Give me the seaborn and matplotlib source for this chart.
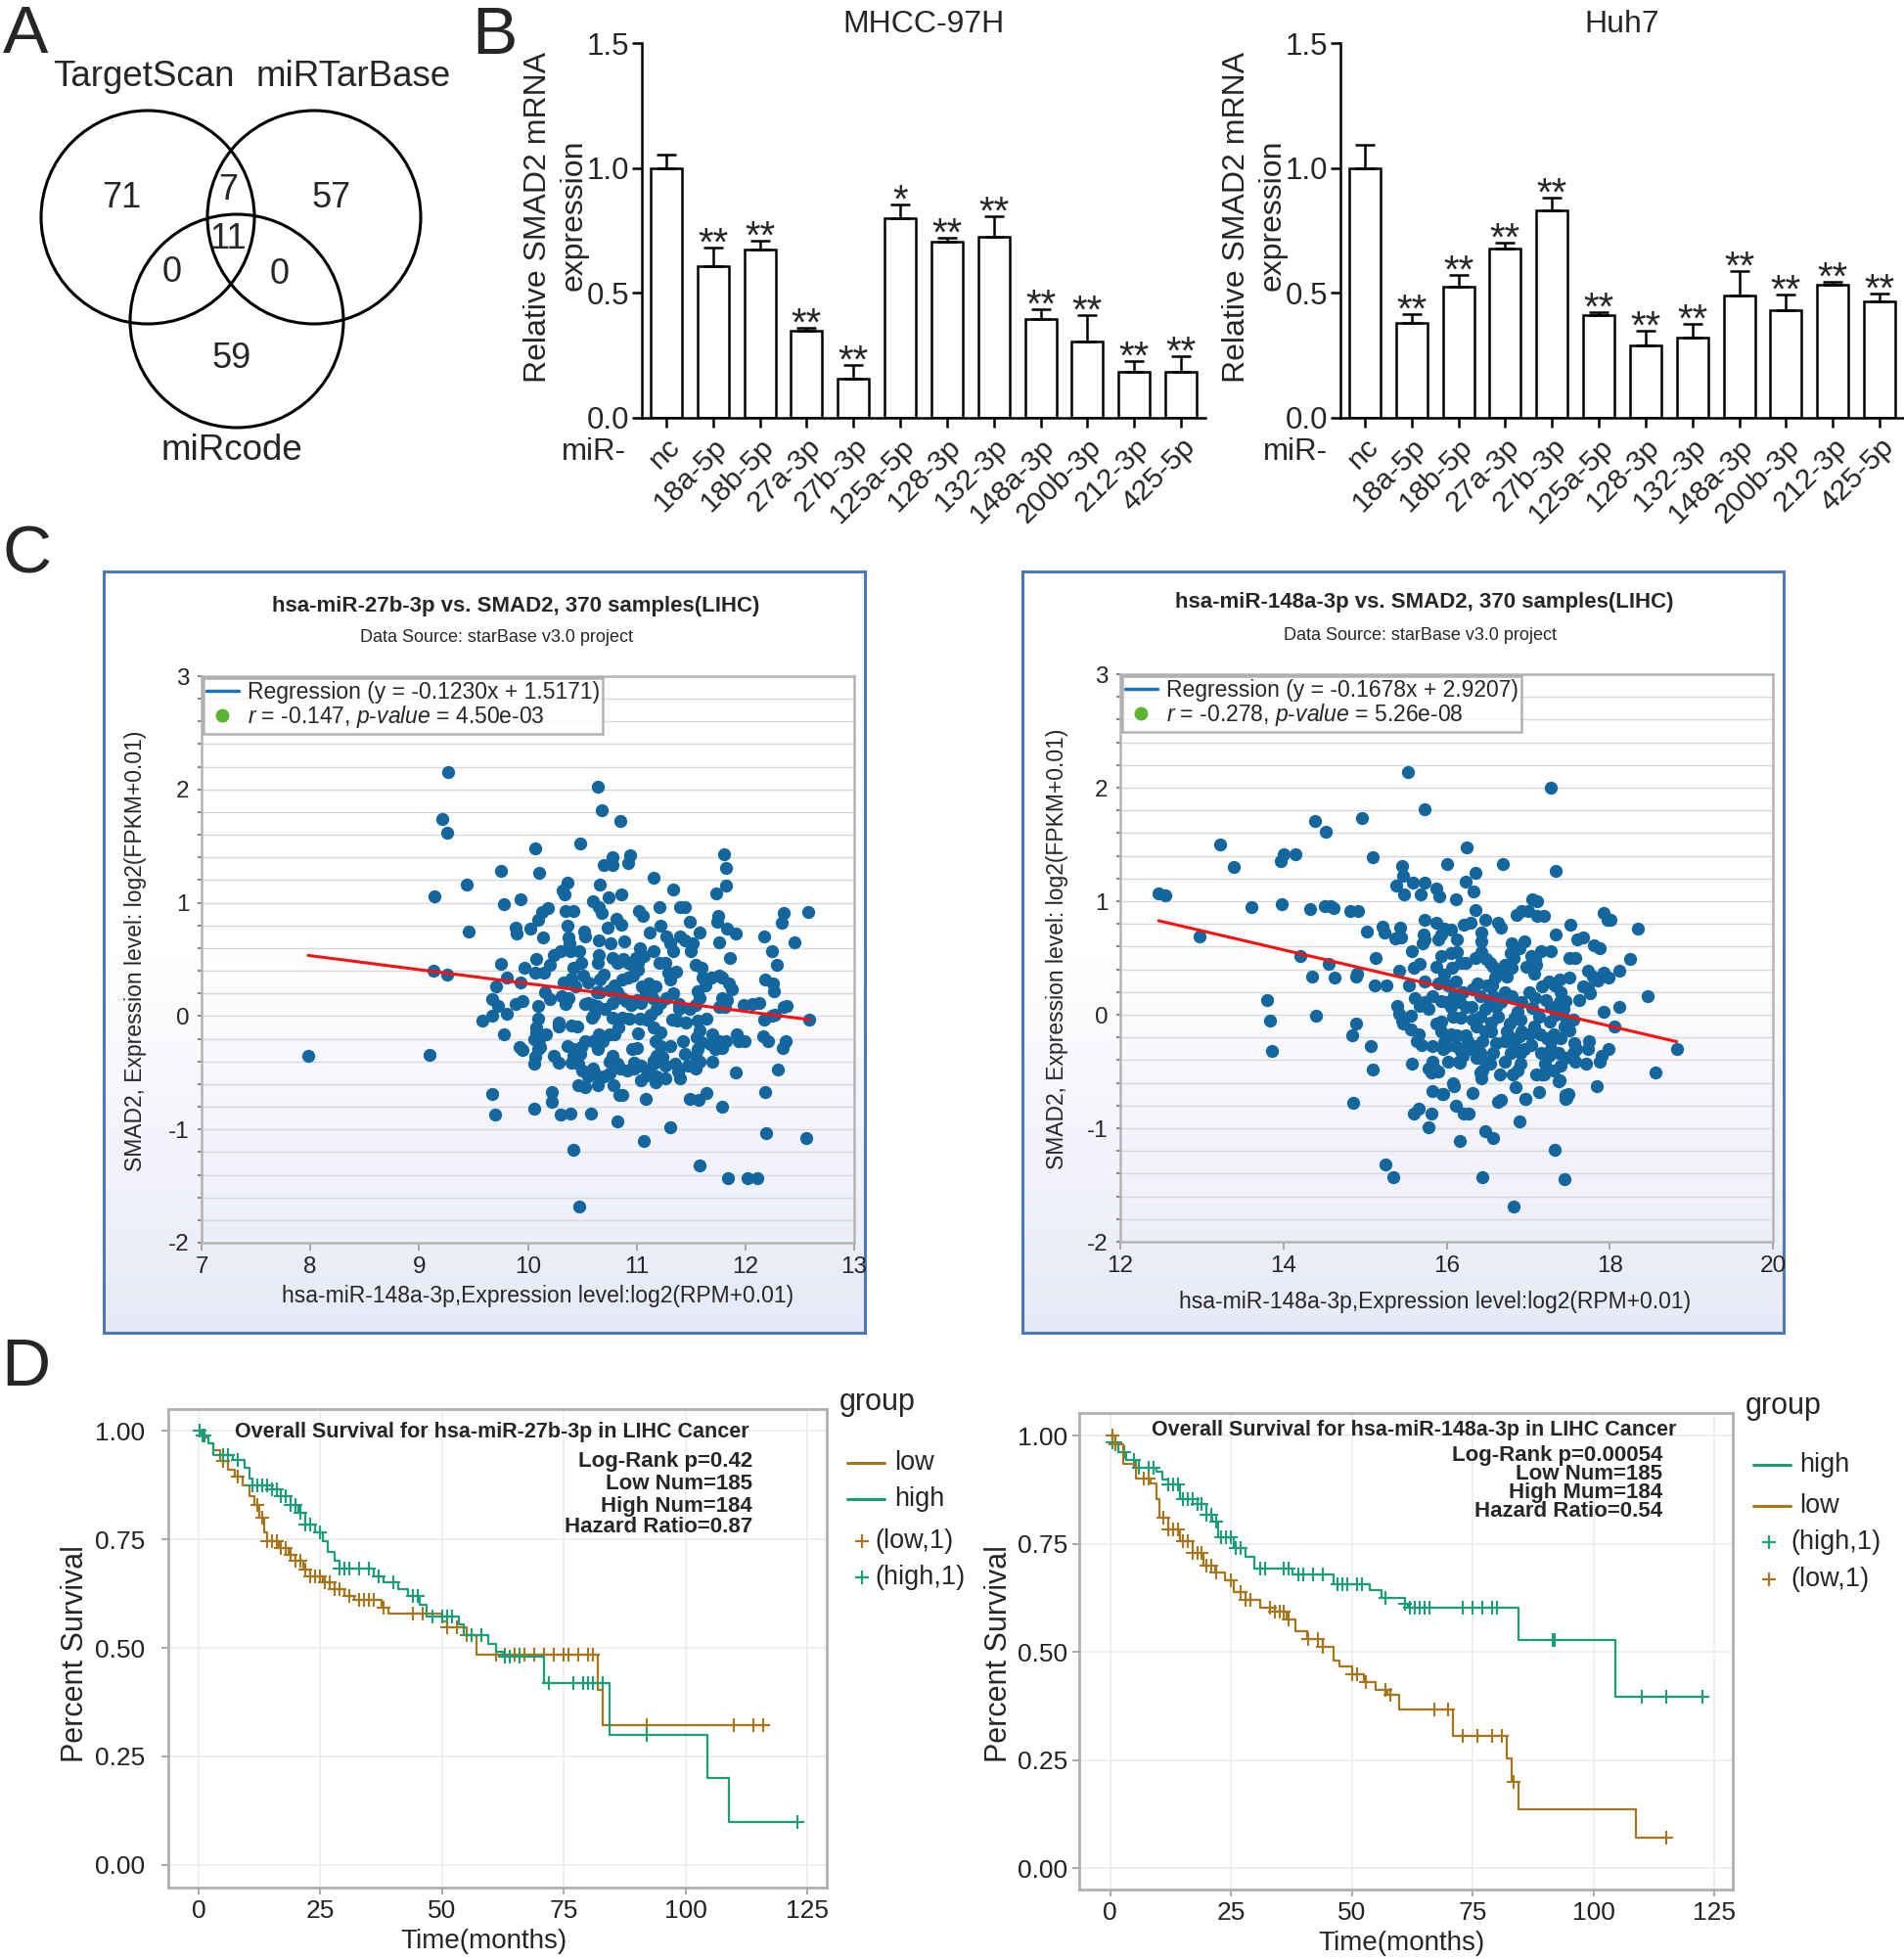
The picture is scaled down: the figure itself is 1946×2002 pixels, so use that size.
import numpy as np
import pandas as pd
import matplotlib
matplotlib.use('Agg')
import matplotlib.pyplot as plt
import seaborn as sns
from matplotlib.patches import Circle
from matplotlib.lines import Line2D
from matplotlib.colors import LinearSegmentedColormap

# ---------------- data ----------------
# A: venn counts
venn_names = ['TargetScan', 'miRTarBase', 'miRcode']
venn_counts = {'ts': 71, 'mtb': 57, 'mc': 59, 'ts_mtb': 7, 'ts_mc': 0, 'mtb_mc': 0, 'all': 11}

# B: qPCR bars
mir_labels = ['nc', '18a-5p', '18b-5p', '27a-3p', '27b-3p', '125a-5p', '128-3p',
              '132-3p', '148a-3p', '200b-3p', '212-3p', '425-5p']
mhcc_mean = [1.0, 0.607, 0.673, 0.349, 0.156, 0.798, 0.706, 0.725, 0.395, 0.304, 0.183, 0.186]
mhcc_err = [0.055, 0.076, 0.034, 0.011, 0.054, 0.056, 0.016, 0.083, 0.039, 0.109, 0.046, 0.062]
mhcc_sig = ['', '**', '**', '**', '**', '*', '**', '**', '**', '**', '**', '**']
huh7_mean = [1.0, 0.379, 0.525, 0.678, 0.830, 0.413, 0.291, 0.322, 0.489, 0.430, 0.532, 0.468]
huh7_err = [0.094, 0.038, 0.045, 0.025, 0.053, 0.011, 0.056, 0.054, 0.097, 0.063, 0.011, 0.029]
huh7_sig = ['', '**', '**', '**', '**', '**', '**', '**', '**', '**', '**', '**']

# C: starBase scatter, miR-27b-3p vs SMAD2
s1_x = [7.98, 9.10, 9.27, 9.21, 9.26, 9.14, 9.44, 9.46, 9.13, 9.26,
        10.64, 10.68, 10.85, 10.48, 10.07, 10.10, 9.75, 9.78, 9.93, 11.80,
        11.82, 11.82, 11.73, 10.94, 10.92, 10.78, 10.70, 10.78, 11.16, 11.34,
        10.66, 10.36, 10.32, 10.34, 10.60, 10.74, 10.86, 11.21, 11.40, 11.44,
        11.02, 11.06, 10.65, 10.68, 10.42, 10.35, 10.18, 10.13, 10.09, 10.02,
        9.89, 9.90, 10.14, 10.36, 10.37, 10.38, 10.52, 10.53, 10.65, 10.73,
        10.81, 10.86, 10.89, 11.12, 11.22, 11.27, 11.31, 11.34, 11.40, 11.44,
        11.49, 11.58, 11.52, 11.50, 11.75, 11.74, 11.76, 11.83, 11.91, 11.86,
        12.17, 12.24, 12.33, 12.35, 12.45, 12.58, 12.29, 12.18, 12.25, 12.26,
        12.35, 12.38, 11.98, 12.06, 12.13, 12.17, 12.24, 12.27, 12.59, 12.16,
        12.21, 12.37, 12.34, 12.30, 11.91, 12.18, 11.79, 12.19, 12.56, 11.58,
        11.84, 12.02, 12.11, 11.07, 11.31, 10.82, 10.42, 10.47, 10.06, 10.30,
        10.39, 10.58, 11.08, 10.22, 10.22, 9.67, 9.70, 10.53, 10.64, 10.79,
        10.84, 10.87, 11.49, 11.57, 11.64, 11.40, 11.26, 11.17, 11.09, 10.98,
        11.04, 10.75, 10.75, 10.62, 10.60, 10.50, 10.46, 10.42, 10.48, 10.36,
        10.49, 10.24, 10.06, 10.07, 10.09, 10.11, 9.95, 9.92, 9.78, 9.58,
        9.67, 9.81, 9.67, 9.73, 9.71, 9.75, 9.81, 9.89, 9.95, 9.93,
        9.97, 10.09, 10.20, 10.08, 10.07, 10.15, 10.20, 10.24, 10.31, 10.33,
        10.35, 10.37, 10.40, 10.42, 10.47, 10.49, 10.55, 10.53, 10.60, 10.63,
        10.66, 10.66, 10.70, 10.64, 10.65, 10.76, 10.78, 10.82, 10.88, 10.92,
        10.96, 11.01, 11.03, 11.07, 11.01, 10.97, 10.92, 10.87, 10.80, 10.75,
        10.82, 10.87, 10.90, 10.95, 11.00, 11.04, 11.08, 11.11, 11.17, 11.16,
        11.21, 11.26, 11.29, 11.31, 11.36, 11.34, 11.39, 11.27, 11.22, 11.18,
        11.13, 11.09, 11.03, 10.93, 10.87, 10.78, 10.83, 10.80, 11.01, 10.96,
        11.00, 10.65, 10.64, 10.59, 10.55, 10.61, 10.45, 10.40, 10.28, 10.28,
        10.17, 10.09, 10.08, 10.10, 11.16, 11.22, 11.17, 11.22, 11.31, 11.18,
        11.24, 11.16, 11.35, 11.38, 11.44, 11.43, 11.33, 11.37, 11.45, 11.39,
        11.49, 11.54, 11.58, 11.56, 11.63, 11.54, 11.60, 11.61, 11.69, 11.76,
        11.79, 11.79, 11.83, 11.76, 11.85, 11.88, 11.81, 11.56, 11.64, 11.58,
        11.55, 11.60, 11.56, 11.54, 11.58, 11.70, 11.68, 11.72, 11.76, 11.79,
        11.82, 11.70, 11.47, 11.54, 11.92, 11.94, 11.99, 11.26, 11.18, 11.16,
        11.11, 11.04, 10.98, 10.91, 10.85, 10.82, 10.78, 10.75, 10.69, 10.60,
        10.53, 10.42, 10.40, 10.28, 10.55, 10.70, 10.46, 10.08, 10.06, 10.16,
        10.78, 10.71, 10.63, 10.44, 10.51, 10.39, 10.30, 11.15, 11.05, 10.99]
s1_y = [-0.35, -0.34, 2.15, 1.74, 1.62, 1.06, 1.16, 0.75, 0.40, 0.37,
        2.02, 1.82, 1.72, 1.52, 1.48, 1.26, 1.28, 0.99, 1.03, 1.43,
        1.31, 1.15, 1.08, 1.42, 1.35, 1.33, 1.33, 1.40, 1.22, 1.12,
        1.16, 1.18, 1.11, 1.07, 1.01, 1.05, 1.07, 0.96, 0.96, 0.96,
        0.93, 0.88, 0.96, 0.91, 0.93, 0.93, 0.95, 0.92, 0.85, 0.77,
        0.78, 0.73, 0.69, 0.80, 0.69, 0.64, 0.75, 0.70, 0.67, 0.78,
        0.86, 0.81, 0.66, 0.74, 0.80, 0.70, 0.64, 0.57, 0.70, 0.67,
        0.83, 0.74, 0.64, 0.57, 0.88, 0.83, 0.65, 0.77, 0.73, 0.51,
        0.70, 0.57, 0.82, 0.91, 0.65, 0.92, 0.45, 0.32, 0.29, 0.22,
        0.08, 0.09, 0.10, 0.11, 0.12, -0.03, 0.00, 0.01, -0.03, -0.18,
        -0.22, -0.22, -0.28, -0.47, -0.50, -0.67, -0.80, -1.03, -1.08, -1.32,
        -1.43, -1.43, -1.43, -1.10, -0.98, -0.93, -1.18, -1.68, -0.82, -0.87,
        -0.86, -0.86, -0.73, -0.67, -0.76, -0.69, -0.87, -0.63, -0.61, -0.61,
        -0.70, -0.70, -0.73, -0.74, -0.68, -0.55, -0.55, -0.58, -0.52, -0.41,
        -0.44, -0.40, -0.51, -0.51, -0.46, -0.48, -0.42, -0.35, -0.33, -0.26,
        -0.27, -0.35, -0.42, -0.36, -0.29, -0.27, -0.30, -0.27, -0.16, -0.04,
        0.00, 0.02, 0.15, 0.09, 0.26, 0.46, 0.34, 0.11, 0.13, 0.30,
        0.43, 0.09, 0.15, 0.50, 0.38, 0.38, 0.45, 0.54, 0.18, 0.30,
        0.11, 0.16, 0.33, 0.43, 0.57, 0.47, 0.30, 0.11, 0.10, 0.09,
        0.21, 0.32, 0.37, 0.47, 0.54, 0.64, 0.51, 0.47, 0.50, 0.47,
        0.45, 0.47, 0.60, 0.53, 0.41, 0.36, 0.34, 0.32, 0.27, 0.23,
        0.21, 0.16, 0.13, 0.10, 0.14, 0.12, 0.21, 0.29, 0.26, 0.57,
        0.47, 0.47, 0.38, 0.32, 0.39, 0.20, 0.11, 0.16, 0.12, 0.06,
        0.01, -0.03, -0.02, -0.02, -0.01, -0.01, -0.10, -0.16, -0.15, -0.29,
        -0.28, -0.16, -0.29, -0.01, 0.12, 0.01, -0.09, -0.08, -0.09, -0.06,
        -0.16, -0.02, -0.10, -0.20, -0.10, -0.14, -0.22, -0.26, -0.26, -0.35,
        -0.36, -0.39, -0.42, -0.49, -0.33, -0.22, -0.03, -0.04, -0.06, 0.06,
        0.06, 0.10, 0.16, 0.22, 0.27, 0.45, 0.43, 0.34, 0.34, 0.36,
        0.34, 0.16, 0.14, 0.08, 0.29, 0.24, 0.08, -0.04, -0.02, -0.13,
        -0.19, -0.23, -0.29, -0.35, -0.40, -0.16, -0.25, -0.29, -0.22, -0.28,
        -0.22, -0.40, -0.44, -0.46, -0.16, -0.22, -0.22, -0.44, -0.53, -0.42,
        -0.48, -0.57, -0.46, -0.48, -0.46, -0.42, -0.35, -0.16, -0.22, -0.22,
        -0.22, -0.29, -0.41, -0.41, -0.53, -0.53, -0.61, -0.14, -0.20, 0.21,
        0.12, 0.06, 0.21, 0.26, 0.36, 0.57, 0.57, 0.16, 0.26, 0.51]
s1_fit = (-0.1230, 1.5171)
s1_stats = ('-0.147', '4.50e-03')

# C: starBase scatter, miR-148a-3p vs SMAD2
s2_x = [12.47, 12.55, 12.97, 13.22, 13.39, 13.61, 13.97, 14.00, 14.15, 13.98,
        14.39, 14.52, 14.96, 14.33, 14.51, 14.62, 14.58, 14.82, 14.91, 14.21,
        14.35, 14.55, 14.63, 13.80, 13.84, 13.86, 14.40, 14.84, 14.89, 14.90,
        14.89, 14.85, 15.07, 15.09, 15.02, 15.09, 15.13, 15.12, 15.26, 15.21,
        15.24, 15.37, 15.43, 15.44, 15.38, 15.46, 15.47, 15.48, 15.59, 15.68,
        15.73, 15.53, 15.73, 16.01, 16.25, 16.69, 16.23, 16.35, 16.33, 16.11,
        15.88, 15.91, 17.28, 17.34, 17.05, 17.11, 17.11, 17.19, 17.00, 16.92,
        16.86, 17.92, 17.97, 18.01, 18.34, 17.52, 17.34, 17.60, 17.67, 17.80,
        17.88, 18.25, 18.12, 17.93, 17.98, 17.73, 17.79, 17.85, 17.67, 17.73,
        17.76, 17.62, 17.51, 17.51, 17.58, 17.28, 17.16, 17.08, 17.04, 17.10,
        16.89, 16.95, 16.80, 16.63, 16.66, 16.47, 16.42, 16.42, 16.35, 16.29,
        16.21, 16.12, 16.05, 15.97, 15.87, 15.73, 15.72, 15.71, 15.73, 15.90,
        15.94, 15.57, 15.67, 15.60, 15.42, 15.54, 15.73, 15.87, 15.93, 16.05,
        16.13, 16.17, 16.07, 15.97, 15.90, 16.02, 16.11, 16.23, 16.35, 16.42,
        16.48, 16.53, 16.57, 16.65, 16.71, 16.78, 16.82, 16.80, 16.74, 16.59,
        16.50, 16.38, 16.32, 16.20, 16.09, 16.01, 15.93, 15.83, 15.73, 15.78,
        15.67, 15.61, 15.40, 15.42, 15.45, 15.56, 15.47, 15.56, 15.66, 15.63,
        15.69, 15.57, 15.83, 15.83, 15.78, 15.85, 15.90, 15.81, 15.83, 15.96,
        15.81, 15.78, 15.66, 15.60, 15.25, 15.35, 15.87, 15.94, 15.93, 15.97,
        15.96, 16.08, 16.05, 16.16, 16.23, 16.17, 16.13, 16.11, 16.17, 16.20,
        16.16, 16.26, 16.27, 16.37, 16.41, 16.32, 16.47, 16.53, 16.57, 16.60,
        16.66, 16.63, 16.54, 16.47, 16.44, 16.35, 16.41, 16.37, 16.47, 16.44,
        16.42, 16.41, 16.53, 16.57, 16.61, 16.71, 16.74, 16.77, 16.83, 16.91,
        16.87, 16.92, 16.80, 16.71, 17.01, 17.08, 17.05, 17.13, 17.07, 17.14,
        17.01, 16.89, 16.80, 16.83, 16.78, 16.91, 16.90, 16.87, 16.81, 16.65,
        16.66, 16.63, 16.84, 16.97, 17.13, 17.17, 17.10, 17.20, 17.25, 17.28,
        17.23, 17.31, 17.27, 17.34, 17.28, 17.22, 17.17, 17.25, 17.33, 17.39,
        17.40, 17.39, 17.43, 17.46, 17.47, 17.44, 17.55, 17.59, 17.55, 17.46,
        17.37, 17.40, 17.31, 17.39, 17.47, 17.49, 17.37, 17.71, 17.73, 17.75,
        17.88, 17.90, 17.98, 18.06, 17.93, 18.12, 18.47, 18.82, 18.56, 17.84,
        17.32, 17.44, 16.89, 16.97, 16.82, 16.44, 16.47, 16.57, 16.16, 16.21,
        16.27, 16.11, 16.09, 15.95, 16.32, 16.15, 16.01, 17.19, 17.46, 17.46,
        17.58, 17.56, 17.51, 17.40, 17.28, 17.16, 17.04, 16.95, 16.92, 16.41,
        16.56, 16.30, 16.54, 16.71, 16.02, 16.08, 16.05, 16.23, 17.07, 16.98]
s2_y = [1.07, 1.05, 0.69, 1.50, 1.30, 0.95, 1.35, 1.41, 1.41, 0.97,
        1.71, 1.61, 1.73, 0.93, 0.96, 0.94, 0.96, 0.91, 0.91, 0.52,
        0.34, 0.45, 0.33, 0.13, -0.05, -0.32, -0.01, -0.18, -0.08, 0.36,
        0.34, -0.78, -0.28, -0.48, 0.73, 1.39, 0.50, 0.26, 0.26, 0.78,
        0.72, 0.67, 0.77, 0.68, 1.14, 1.31, 1.22, 1.06, 1.16, 1.06,
        1.16, 2.14, 1.81, 1.33, 1.47, 1.33, 1.17, 1.25, 1.09, 1.02,
        1.11, 1.04, 2.00, 1.27, 1.02, 1.00, 0.87, 0.87, 0.91, 0.91,
        0.88, 0.90, 0.84, 0.84, 0.76, 0.79, 0.71, 0.66, 0.68, 0.61,
        0.59, 0.49, 0.39, 0.37, 0.33, 0.39, 0.34, 0.30, 0.25, 0.23,
        0.19, 0.13, 0.33, 0.50, 0.50, 0.56, 0.56, 0.48, 0.52, 0.44,
        0.59, 0.65, 0.63, 0.81, 0.77, 0.84, 0.72, 0.65, 0.92, 0.81,
        0.79, 0.66, 0.75, 0.76, 0.81, 0.84, 0.71, 0.63, 0.66, 0.66,
        0.71, 0.56, 0.45, 0.41, 0.39, 0.26, 0.29, 0.42, 0.52, 0.54,
        0.55, 0.46, 0.41, 0.35, 0.28, 0.26, 0.29, 0.46, 0.50, 0.55,
        0.49, 0.46, 0.42, 0.37, 0.44, 0.54, 0.50, 0.41, 0.34, 0.33,
        0.26, 0.28, 0.22, 0.20, 0.17, 0.11, 0.12, 0.16, 0.11, 0.05,
        0.08, 0.15, 0.08, 0.01, -0.05, -0.01, -0.08, -0.13, -0.17, -0.23,
        -0.27, -0.43, -0.28, -0.41, -0.47, -0.47, -0.50, -0.51, -0.67, -0.70,
        -0.87, -0.99, -0.83, -0.87, -1.32, -1.43, -0.08, -0.06, -0.15, -0.24,
        -0.30, -0.02, 0.07, 0.11, 0.07, -0.03, -0.18, -0.28, -0.32, -0.36,
        -0.42, -0.23, -0.30, -0.10, -0.02, -0.04, 0.05, 0.11, 0.16, 0.07,
        0.11, -0.02, -0.07, -0.15, -0.23, -0.28, -0.34, -0.38, -0.41, -0.49,
        -0.56, -0.51, -0.43, -0.34, -0.25, -0.23, -0.15, -0.08, -0.03, -0.04,
        0.03, 0.11, 0.16, 0.20, 0.20, 0.15, 0.06, -0.02, -0.10, -0.17,
        -0.17, -0.19, -0.21, -0.28, -0.34, -0.34, -0.43, -0.49, -0.53, -0.53,
        -0.75, -0.77, -0.64, -0.74, -0.68, -0.53, -0.53, -0.43, -0.36, -0.30,
        -0.21, -0.17, -0.06, 0.00, 0.07, 0.13, 0.25, 0.29, 0.26, 0.31,
        0.20, 0.11, 0.05, 0.12, -0.04, -0.10, -0.04, -0.30, -0.34, -0.38,
        -0.34, -0.45, -0.49, -0.58, -0.73, -0.70, -0.59, -0.43, -0.30, -0.23,
        -0.41, -0.36, -0.30, -0.10, 0.03, 0.07, 0.16, -0.30, -0.51, -0.63,
        -1.19, -1.45, -0.94, -0.74, -1.69, -1.43, -1.03, -1.09, -1.11, -0.87,
        -0.87, -0.80, -0.63, -0.70, -0.69, -0.41, -0.28, -0.53, -0.74, -0.71,
        -0.41, -0.25, -0.14, -0.21, -0.23, -0.34, -0.27, -0.30, -0.15, 0.16,
        0.26, 0.07, -0.15, -0.41, -0.41, -0.60, -0.17, -0.18, 0.36, 0.42]
s2_fit = (-0.1678, 2.9207)
s2_stats = ('-0.278', '5.26e-08')

# D: Kaplan-Meier step curves (time in months, survival after the step)
km1_low_t = [0, 1, 2, 3, 4.5, 6, 7.5, 9, 10.5, 11.5, 12.5, 13.5, 14, 16.5, 18.5, 20, 21.5, 23,
             25.5, 28, 30, 32, 37.5, 39, 50, 51, 55, 57, 82, 83, 117]
km1_low_s = [1, .985, .97, .955, .93, .91, .895, .875, .85, .83, .80, .765, .745, .73, .715, .70,
             .68, .665, .65, .635, .62, .61, .593, .578, .56, .547, .53, .484, .404, .323, .323]
km1_low_cens = [5, 8, 12, 13, 14, 15, 16, 17, 18, 19, 20, 21, 22, 23, 24, 25, 26, 27, 28, 29, 31,
                33, 34, 35, 36, 38, 44, 46, 51, 53, 55, 61, 63, 65, 66, 67, 69, 71, 73, 75, 76,
                78, 80, 81, 92, 110, 114, 116]
km1_high_t = [0, 0.5, 2, 3, 7, 9.5, 10.5, 11, 15, 17, 19, 20.5, 22, 24, 25.5, 26.5, 28, 29, 36,
              38, 41, 43, 45.5, 46.8, 53.5, 54.5, 59.5, 61, 62.5, 71, 84.5, 104.5, 109, 123]
km1_high_s = [1, .99, .97, .945, .933, .915, .89, .875, .865, .85, .83, .81, .785, .765, .745,
              .72, .70, .683, .665, .65, .635, .62, .60, .572, .555, .53, .51, .49, .48, .42,
              .30, .20, .10, .10]
km1_high_cens = [0.3, 0.8, 1.2, 5, 6, 8, 11, 12, 13, 14, 15, 16, 17, 18, 19, 20, 21, 22, 23, 25,
                 29, 30, 31, 33, 35, 37, 40, 44, 45, 48, 50, 51, 52, 56, 58, 63, 64, 66, 72, 77,
                 79, 80, 81, 83, 92, 123]
km1_info = ['Log-Rank p=0.42', 'Low Num=185', 'High Num=184', 'Hazard Ratio=0.87']

km2_high_t = [0, 0.5, 1.6, 3.4, 5.3, 9.6, 10.8, 12, 14.5, 18, 20, 21.2, 22.4, 25.5, 28, 29.8,
              37.7, 46.3, 53.7, 56.1, 61, 61.6, 84.5, 104.5, 123]
km2_high_s = [1, .985, .962, .944, .926, .917, .899, .886, .854, .841, .818, .80, .764, .741,
              .719, .692, .678, .656, .642, .624, .611, .602, .527, .396, .396]
km2_high_cens = [0.5, 1, 3, 5, 6, 8, 9, 12, 13, 14, 15, 16, 17, 18, 19, 20, 21, 22, 23, 24, 25,
                 26, 27, 31, 32, 36, 37, 39, 40, 42, 44, 47, 48, 49, 51, 52, 57, 61, 62, 63, 64,
                 65, 66, 73, 75, 77, 79, 80, 91.5, 92, 110, 115, 122.5]
km2_low_t = [0, 1, 2.8, 5.3, 8.3, 9.6, 10.2, 12, 14.5, 17, 19.4, 21.8, 23.7, 25.5, 28, 31, 34,
             36.5, 38.4, 40.8, 43.9, 46.3, 47.5, 50, 52.5, 54.9, 57.4, 59.8, 71, 82, 83, 84.5,
             108.7, 115]
km2_low_s = [1, .98, .935, .90, .89, .854, .809, .782, .755, .728, .70, .683, .665, .638, .62,
             .602, .593, .575, .548, .53, .512, .48, .467, .449, .431, .413, .40, .366, .305,
             .255, .20, .136, .07, .07]
km2_low_cens = [0.5, 1, 7, 8, 11, 12, 13, 14, 15, 16, 17, 18, 19, 20, 21, 22, 25, 27, 28, 29, 33,
                34, 35, 36, 37, 41, 43, 44, 50, 51, 53, 57, 58, 67, 70, 73, 76, 79, 81, 83.5, 115]
km2_info = ['Log-Rank p=0.00054', 'Low Num=185', 'High Mum=184', 'Hazard Ratio=0.54']

# ---------------- style ----------------
sns.set_style('white')
plt.rcParams['font.family'] = ['Liberation Sans', 'DejaVu Sans']
plt.rcParams['mathtext.fontset'] = 'custom'
plt.rcParams['mathtext.rm'] = 'Liberation Sans'
plt.rcParams['mathtext.it'] = 'Liberation Sans:italic'
plt.rcParams['axes.unicode_minus'] = False

W, H = 1946, 2002
fig = plt.figure(figsize=(W / 100, H / 100), dpi=100)


def box(l, t, r, b):
    # pixel box (left, top, right, bottom) -> figure fraction rect
    return [l / W, 1 - b / H, (r - l) / W, (b - t) / H]


def ftext(x, y, s, **kw):
    fig.text(x / W, 1 - y / H, s, **kw)


TEAL = '#1b9e77'
BROWN = '#a6761d'

# panel letters
letter_pos = {'A': (3, 4, 'left'), 'B': (505, 5, 'center'), 'C': (3, 536, 'left'),
              'D': (1, 1366, 'left')}
for letter, (lx, ly, ha) in letter_pos.items():
    ftext(lx, ly, letter, fontsize=50, ha=ha, va='top')

# ---------------- A: venn ----------------
ax = fig.add_axes(box(0, 0, 500, 480))
ax.set_xlim(0, 500)
ax.set_ylim(480, 0)
ax.axis('off')
venn_centers = [(151, 222), (321, 222), (242, 328)]
for cx, cy in venn_centers:
    ax.add_patch(Circle((cx, cy), 109, fill=False, lw=2.2, ec='black'))
name_pos = [(147, 78), (361, 78), (237, 460)]
for name, (tx, ty) in zip(venn_names, name_pos):
    ax.text(tx, ty, name, fontsize=26.5, ha='center', va='center')
count_pos = {'ts': (124, 203), 'ts_mtb': (233, 195), 'mtb': (339, 203), 'all': (233, 245),
             'ts_mc': (176, 278), 'mtb_mc': (286, 280), 'mc': (237, 367)}
for k, (tx, ty) in count_pos.items():
    ax.text(tx, ty, str(venn_counts[k]), fontsize=26, ha='center', va='center')


# ---------------- B: bars ----------------
def bar_panel(l, r, vals, errs, sig, title, title_x, ylab_x, mir_x):
    ax = fig.add_axes(box(l, 44, r, 427))
    df = pd.DataFrame({'mir': mir_labels, 'val': vals})
    sns.barplot(data=df, x='mir', y='val', color='white', edgecolor='black', linewidth=1.8,
                width=0.67, saturation=1, errorbar=None, ax=ax)
    x = np.arange(len(vals))
    ax.errorbar(x, vals, yerr=[np.zeros(len(vals)), errs], fmt='none', ecolor='black',
                elinewidth=1.8, capsize=7, capthick=1.8)
    for xi, v, e, s in zip(x, vals, errs, sig):
        if s:
            ax.text(xi, v + e - 0.03, s, ha='center', va='baseline', fontsize=29)
    ax.set_xlim(-0.52, len(vals) - 0.48)
    ax.set_ylim(0, 1.5)
    ax.set_yticks([0, 0.5, 1.0, 1.5])
    ax.set_yticklabels(['0.0', '0.5', '1.0', '1.5'])
    ax.set_xlabel('')
    ax.set_ylabel('')
    for sp in ['top', 'right']:
        ax.spines[sp].set_visible(False)
    for sp in ['left', 'bottom']:
        ax.spines[sp].set_linewidth(1.8)
        ax.spines[sp].set_color('black')
    ax.tick_params(axis='both', direction='out', length=7, width=1.8, color='black',
                   labelsize=22.5, left=True, bottom=True, pad=2)
    ax.tick_params(axis='x', labelsize=21.5, pad=4)
    plt.setp(ax.get_xticklabels(), rotation=45, ha='right', va='top', rotation_mode='anchor')
    ftext(title_x, 25, title, fontsize=23, ha='center', va='center')
    ftext(ylab_x, 222, 'Relative SMAD2 mRNA', fontsize=23, rotation=90, ha='center', va='center')
    ftext(ylab_x + 37, 220, 'expression', fontsize=23, rotation=90, ha='center', va='center')
    ftext(mir_x, 462, 'miR-', fontsize=22.5, ha='center', va='center')


bar_panel(656, 1232, mhcc_mean, mhcc_err, mhcc_sig, 'MHCC-97H', 944, 550, 607)
bar_panel(1370, 1946, huh7_mean, huh7_err, huh7_sig, 'Huh7', 1658, 1264, 1324)

# ---------------- C: scatter ----------------
bg_cmap = LinearSegmentedColormap.from_list('bg', ['#ffffff', '#ffffff', '#e7e9f7'])


def scatter_panel(bg, plot, xs, ys, fit, stats, xlim, xticks, title, tpos, spos, xlpos, ylpos):
    axb = fig.add_axes(box(*bg))
    axb.imshow(np.linspace(0, 1, 256)[:, None], aspect='auto', cmap=bg_cmap,
               extent=[0, 1, 0, 1])
    axb.set_xticks([])
    axb.set_yticks([])
    for sp in axb.spines.values():
        sp.set_color('#4a78bb')
        sp.set_linewidth(2.2)

    ax = fig.add_axes(box(*plot))
    ax.patch.set_alpha(0)
    sns.scatterplot(x=xs, y=ys, ax=ax, color='#14679e', s=92, linewidth=0, zorder=3)
    xr = np.array([min(xs), max(xs)])
    ax.plot(xr, fit[0] * xr + fit[1], color='#ff1010', lw=2.2, zorder=4)
    ax.set_xlim(*xlim)
    ax.set_ylim(-2, 3)
    ax.set_xticks(xticks)
    ax.set_yticks(range(-2, 4))
    ax.set_yticks(np.arange(-2, 3.01, 0.2), minor=True)
    ax.grid(axis='y', which='both', color='#d8d8d8', lw=1)
    ax.grid(axis='x', visible=False)
    ax.set_axisbelow(True)
    for sp in ax.spines.values():
        sp.set_color('#b4b4b4')
        sp.set_linewidth(1.8)
    ax.tick_params(axis='y', which='both', direction='out', length=3, width=1.5,
                   color='#888888', left=True, labelsize=17.5, pad=6)
    ax.tick_params(axis='x', direction='out', length=6, width=1.2, color='#999999',
                   bottom=True, labelsize=17.5, pad=4)
    ax.set_xlabel('')
    ax.set_ylabel('')
    handles = [Line2D([0], [0], color='#1b75bc', lw=2.5),
               Line2D([0], [0], marker='o', color='#5bb432', ls='', ms=9)]
    labels = ['Regression (y = %.4fx + %.4f)' % fit,
              r'$\it{r}$ = %s, $\it{p}$-$\it{value}$ = %s' % stats]
    leg = ax.legend(handles, labels, loc='upper left', bbox_to_anchor=(0.003, 0.997),
                    fontsize=16.5, frameon=True, fancybox=False, borderpad=0.15,
                    handlelength=1.4, handletextpad=0.4, labelspacing=0.0,
                    borderaxespad=0)
    leg.get_frame().set_edgecolor('#a0a0a0')
    leg.get_frame().set_linewidth(1.8)
    ftext(*tpos, title, fontsize=16, fontweight='bold', ha='center', va='center')
    ftext(*spos, 'Data Source: starBase v3.0 project', fontsize=13, ha='center', va='center')
    ftext(*xlpos, 'hsa-miR-148a-3p,Expression level:log2(RPM+0.01)', fontsize=16.5,
          ha='center', va='center')
    ftext(*ylpos, 'SMAD2, Expression level: log2(FPKM+0.01)', fontsize=16.5, rotation=90,
          ha='center', va='center')


scatter_panel((106, 584, 884, 1362), (206, 691, 873, 1270), s1_x, s1_y, s1_fit, s1_stats,
              (7, 13), range(7, 14), 'hsa-miR-27b-3p vs. SMAD2, 370 samples(LIHC)',
              (527, 619), (508, 651), (550, 1324), (138, 972))
scatter_panel((1045, 584, 1823, 1362), (1145, 689, 1812, 1269), s2_x, s2_y, s2_fit, s2_stats,
              (12, 20), range(12, 21, 2), 'hsa-miR-148a-3p vs. SMAD2, 370 samples(LIHC)',
              (1456, 616), (1452, 649), (1467, 1330), (1081, 970))


# ---------------- D: Kaplan-Meier ----------------
def surv_at(t, s, c):
    idx = np.searchsorted(t, c, side='right') - 1
    return np.asarray(s)[idx]


def km_panel(pbox, xlim, ylim, curves, info, title, tpos, info_x, info_y, ypad, ylab_x,
             xlab_xy, leg):
    ax = fig.add_axes(box(*pbox))
    for name, t, s, cens, col in curves:
        ax.step(t, s, where='post', color=col, lw=1.6)
        cs = surv_at(np.asarray(t), s, np.asarray(cens))
        ax.plot(cens, cs, ls='', marker='+', ms=10, mew=1.5, color=col)
    ax.set_xlim(*xlim)
    ax.set_ylim(*ylim)
    ax.set_xticks([0, 25, 50, 75, 100, 125])
    ax.set_yticks([0, 0.25, 0.5, 0.75, 1.0])
    ax.set_yticklabels(['0.00', '0.25', '0.50', '0.75', '1.00'])
    ax.grid(True, color='#ececec', lw=1.2)
    for sp in ax.spines.values():
        sp.set_color('#b0b0b0')
        sp.set_linewidth(2)
    ax.tick_params(direction='out', length=5, width=1.2, color='#999999', labelsize=19,
                   labelcolor='#222222', left=True, bottom=True)
    ax.tick_params(axis='y', pad=ypad)
    ftext(*tpos, title, fontsize=15.5, fontweight='bold', ha='center', va='center')
    for line, yy in zip(info, info_y):
        ftext(info_x, yy, line, fontsize=16, fontweight='bold', ha='right', va='center')
    ftext(ylab_x, 1690, 'Percent Survival', fontsize=22, rotation=90, ha='center', va='center')
    ftext(*xlab_xy, 'Time(months)', fontsize=20, ha='center', va='center')

    # legend keys, drawn by hand (ggplot style: title, line keys, then '+' keys)
    gx, gy, lx0, lx1, tx, ys, mx, mtx, mys = leg
    ftext(gx, gy, 'group', fontsize=22, ha='left', va='center')
    for (name, _, _, _, col), yy in zip(curves, ys):
        fig.add_artist(Line2D([lx0 / W, lx1 / W], [1 - yy / H] * 2, color=col, lw=2.2))
        ftext(tx, yy, name, fontsize=19.5, ha='left', va='center')
    for (name, _, _, _, col), yy in zip(curves, mys):
        fig.add_artist(Line2D([mx / W], [1 - yy / H], color=col, marker='+', ms=10, mew=1.6))
        ftext(mtx, yy, '(%s,1)' % name, fontsize=19.5, ha='left', va='center')


km_panel((172, 1440, 845, 1929), (-6.2, 129), (-0.052, 1.05),
         [('low', km1_low_t, km1_low_s, km1_low_cens, BROWN),
          ('high', km1_high_t, km1_high_s, km1_high_cens, TEAL)],
         km1_info, 'Overall Survival for hsa-miR-27b-3p in LIHC Cancer', (503, 1464),
         769, [1494, 1516, 1539, 1561], 12, 77, (494, 1984),
         (858, 1433, 866, 904, 914, [1495, 1532], 881, 894, [1575, 1612]))
km_panel((1103, 1444, 1771, 1931), (-6.4, 128.8), (-0.049, 1.052),
         [('high', km2_high_t, km2_high_s, km2_high_cens, TEAL),
          ('low', km2_low_t, km2_low_s, km2_low_cens, BROWN)],
         km2_info, 'Overall Survival for hsa-miR-148a-3p in LIHC Cancer', (1445, 1462),
         1699, [1487, 1506, 1525, 1545], 3.5, 1021, (1433, 1986),
         (1784, 1437, 1792, 1830, 1839, [1497, 1539], 1808, 1830, [1576, 1614]))

fig.savefig('out.png', dpi=100)
